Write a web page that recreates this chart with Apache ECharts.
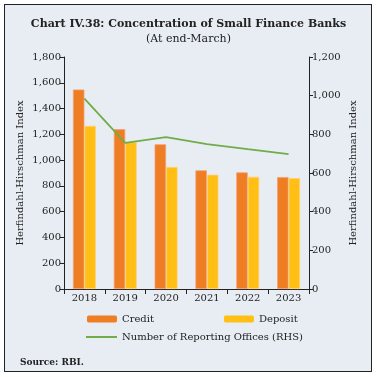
<!DOCTYPE html>
<html>
<head>
<meta charset="utf-8">
<script src="https://cdn.jsdelivr.net/npm/echarts@6/dist/echarts.min.js"></script>
<style>
  body { margin: 0; background: #fff; }
  #wrap { position: relative; width: 377px; height: 377px; }
  #frame {
    position: absolute; left: 4px; top: 4px; width: 366px; height: 366px;
    border: 1.5px solid #222; background: #E8EDF4;
  }
  #chart { position: absolute; left: 0; top: 0; width: 377px; height: 377px; }
</style>
</head>
<body>
<div id="wrap">
  <div id="frame"></div>
  <div id="chart"></div>
</div>
<script>
const years = ["2018", "2019", "2020", "2021", "2022", "2023"];
const credit = [1548, 1240, 1123, 921, 905, 869];
const deposit = [1266, 1139, 947, 887, 871, 861];
const offices = [985, 756, 785, 749, 723, 698];

const leftTicks = { min: 0, max: 1800, interval: 200 };
const rightTicks = { min: 0, max: 1200, interval: 200 };

let chart = echarts.init(document.getElementById("chart"));

const serif = "DejaVu Serif";
const axisText = { color: "#222", fontFamily: serif, fontSize: 10 };
const fmt = (v) => v.toLocaleString("en-US");

let options = {
    backgroundColor: "transparent",
    animation: false,
    title: [
        {
            text: "Chart IV.38: Concentration of Small Finance Banks",
            left: "center",
            top: 14,
            textStyle: { fontFamily: serif, fontWeight: "bold", fontSize: 11, color: "#222" },
        },
        {
            text: "(At end-March)",
            left: "center",
            top: 29,
            textStyle: { fontFamily: serif, fontWeight: "normal", fontSize: 11, color: "#222" },
        },
        {
            text: "Source: RBI.",
            left: 15,
            top: 353,
            textStyle: { fontFamily: serif, fontWeight: "bold", fontSize: 9, color: "#222" },
        },
    ],
    grid: { left: 64, right: 68, top: 57, bottom: 88 },
    legend: [
        {
            data: ["Credit", "Deposit"],
            left: 87,
            top: 314,
            padding: 0,
            itemWidth: 30,
            itemHeight: 7,
            itemGap: 70,
            itemStyle: { borderWidth: 0 },
            textStyle: axisText,
        },
        {
            data: [{ name: "Number of Reporting Offices (RHS)", icon: "rect" }],
            left: 86,
            top: 332,
            padding: 0,
            itemWidth: 31,
            itemHeight: 2,
            itemStyle: { borderWidth: 0 },
            textStyle: axisText,
        },
    ],
    xAxis: {
        type: "category",
        data: years,
        axisLine: { lineStyle: { color: "#222", width: 1 } },
        axisTick: { show: true, length: 5, lineStyle: { color: "#222" } },
        axisLabel: Object.assign({ margin: 4 }, axisText),
    },
    yAxis: [
        {
            type: "value",
            min: leftTicks.min,
            max: leftTicks.max,
            interval: leftTicks.interval,
            name: "Herfindahl-Hirschman Index",
            nameLocation: "middle",
            nameGap: 39,
            nameMoveOverlap: false,
            nameTextStyle: { fontFamily: serif, fontSize: 10, color: "#222" },
            splitLine: { show: false },
            axisLine: { show: true, lineStyle: { color: "#222" } },
            axisTick: { show: true, length: 4, lineStyle: { color: "#222" } },
            axisLabel: Object.assign({ margin: 3, formatter: fmt }, axisText),
        },
        {
            type: "value",
            min: rightTicks.min,
            max: rightTicks.max,
            interval: rightTicks.interval,
            name: "Herfindahl-Hirschman Index",
            nameLocation: "middle",
            nameGap: 39,
            nameRotate: 90,
            nameMoveOverlap: false,
            nameTextStyle: { fontFamily: serif, fontSize: 10, color: "#222" },
            splitLine: { show: false },
            axisLine: { show: true, lineStyle: { color: "#222" } },
            axisTick: { show: true, length: 4, lineStyle: { color: "#222" } },
            axisLabel: Object.assign({ margin: 3, formatter: fmt }, axisText),
        },
    ],
    series: [
        {
            name: "Credit",
            type: "bar",
            data: credit,
            barWidth: 11.5,
            barGap: "0%",
            itemStyle: { color: "#EE7D24", borderColor: "#F3A27A", borderWidth: 0.8 },
        },
        {
            name: "Deposit",
            type: "bar",
            data: deposit,
            barWidth: 11.5,
            barGap: "0%",
            itemStyle: { color: "#FFBF14", borderColor: "#FFD27A", borderWidth: 0.8 },
        },
        {
            name: "Number of Reporting Offices (RHS)",
            type: "line",
            yAxisIndex: 1,
            data: offices,
            symbol: "none",
            lineStyle: { color: "#70AD47", width: 1.8 },
            itemStyle: { color: "#70AD47" },
        },
    ],
};
chart.setOption(options);
</script>
</body>
</html>
